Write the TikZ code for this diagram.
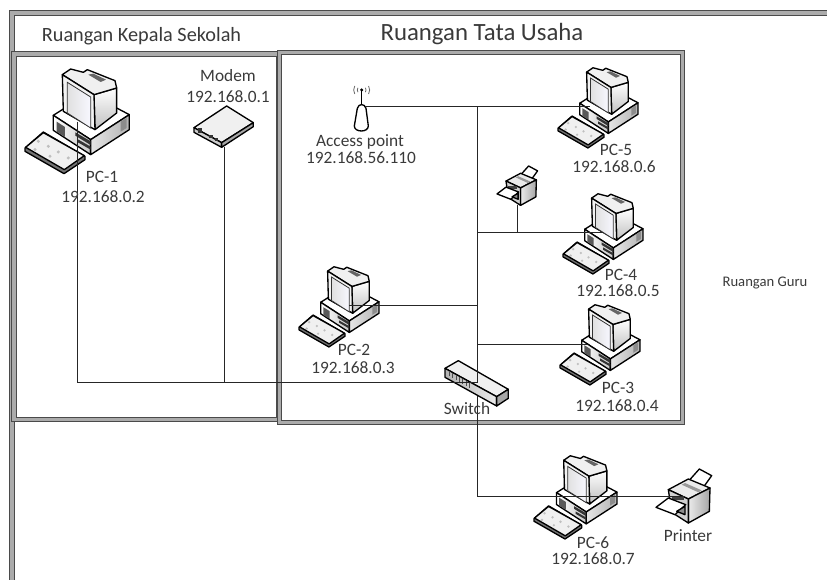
\documentclass[tikz,border=0pt]{standalone}
\usepackage{fontspec}
\setmainfont{Carlito}
\definecolor{wallgray}{HTML}{ABABAB}
\definecolor{walldark}{HTML}{4A4A4A}
\definecolor{labelc}{HTML}{3A3A3A}
\tikzset{
  wall/.style={draw=walldark,line width=0.75pt,double=wallgray,double distance=2.4pt},
  lab/.style={text=labelc,font=\fontsize{13pt}{15pt}\selectfont,inner sep=0pt,align=center},
  titlelab/.style={text=labelc,font=\fontsize{15.2pt}{18pt}\selectfont,inner sep=0pt},
  bigtitlelab/.style={text=labelc,font=\fontsize{18.6pt}{21pt}\selectfont,inner sep=0pt},
  smalllab/.style={text=labelc,font=\fontsize{11pt}{13pt}\selectfont,inner sep=0pt},
  wire/.style={draw=black!85,line width=0.75pt},
  ic/.style={draw=black,line width=1pt,line join=round},
  thin ic/.style={draw=black!75,line width=0.4pt},
}
\newcommand{\pcicon}[3]{%
 \begin{scope}[shift={(#1,#2)},scale=#3,shift={(-75,-205)}]
  % base
  \fill[white,ic] (160,347)--(190,328)--(350,325)--(388,345)--(272,420)--cycle;
  \shade[left color=white,right color=black!22,ic] (160,347)--(272,420)--(272,465)--(160,392)--cycle;
  \shade[left color=black!10,right color=black!30,ic] (272,420)--(388,345)--(388,390)--(272,465)--cycle;
  \fill[black!65] (170,366)--(195,382)--(195,412)--(170,396)--cycle;
  \fill[black!80] (226,398)--(272,425)--(272,436)--(226,408)--cycle;
  \fill[black!80] (232,418)--(272,441)--(272,450)--(232,427)--cycle;
  \fill[black!45] (362,366)--(380,355)--(380,385)--(362,396)--cycle;
  % monitor
  \shade[top color=white,bottom color=black!25,ic] (282,285)--(350,265)--(350,340)--(285,390)--cycle;
  \fill[black!6,ic] (187,225)--(212,208)--(250,218)--(262,210)--(345,243)--(350,265)--(282,285)--cycle;
  \fill[black!60] (265,225)--(280,222)--(318,240)--(302,247)--cycle;
  \fill[black!5,ic] (187,225)--(282,285)--(285,390)--(190,335)--cycle;
  \shade[left color=black!12,right color=blue!3,draw=black!80,line width=.6pt] (202,248)--(272,292)--(272,385)--(202,340)--cycle;
  % keyboard
  \fill[black!55,ic] (75,445)--(130,397)--(255,470)--(255,480)--(192,522)--(75,455)--cycle;
  \fill[black!6,ic] (77,443)--(130,399)--(253,468)--(193,510)--cycle;
  \foreach \a/\b in {115/425,145/440,175/457,205/475,150/470,105/450}
    \fill[black!25] (\a,\b) circle (5);
 \end{scope}}
\newcommand{\printericon}[3]{%
 \begin{scope}[shift={(#1,#2)},scale=#3,shift={(-48,-88)}]
  \fill[white,ic] (145,125)--(178,88)--(215,108)--(185,150)--cycle;
  \fill[black!8,ic] (85,150)--(145,118)--(210,145)--(145,178)--cycle;
  \fill[black!40] (125,135)--(135,130)--(185,152)--(175,158)--cycle;
  \shade[left color=black!8,right color=black!35,ic] (145,178)--(210,145)--(208,215)--(145,250)--cycle;
  \fill[black!18,ic] (85,150)--(145,178)--(145,250)--(95,218)--cycle;
  \fill[black!75] (95,170) rectangle (132,182);
  \fill[white,ic] (48,203)--(85,175)--(137,195)--(105,225)--cycle;
  \fill[black!45,ic] (110,215)--(135,200)--(135,225)--cycle;
 \end{scope}}
\begin{document}
\begin{tikzpicture}[x=0.75pt,y=-0.75pt]
\useasboundingbox (0,0) rectangle (827,580);
% walls
\path[wall] (12,580)--(12,13)--(827,13);
\path[wall] (14,54) rectangle (279,419.5);
\path[wall] (279.5,52.5) rectangle (682.5,422.5);
% icons
\pcicon{25}{68}{0.3333}
\pcicon{558}{67}{0.2555}
\pcicon{563}{193}{0.2555}
\pcicon{299}{266}{0.2555}
\pcicon{560}{304}{0.2555}
\pcicon{534}{455}{0.265}
\printericon{656}{469}{0.3333}
\printericon{497}{166}{0.243}
% modem
\begin{scope}[scale=0.3333]
  \fill[black!6,ic] (582,383)--(680,318)--(760,368)--(665,428)--cycle;
  \fill[black!20,ic] (582,383)--(665,428)--(665,442)--(582,397)--cycle;
  \fill[black!35,ic] (665,428)--(760,368)--(760,380)--(665,442)--cycle;
  \fill[black!80] (595,385) rectangle (606,400);
  \fill[black!80] (628,405) rectangle (638,415);
  \fill[black!80] (645,413) rectangle (655,423);
\end{scope}
% access point
\begin{scope}[shift={(280,40)},scale=0.3333]
  \draw[ic,line width=1.1pt] (245,150)--(245,200);
  \fill[black] (245,150) circle (5);
  \foreach \r in {13,24}{
    \draw[black!60,line width=.6pt] (245,150) ++(150:\r) arc (150:210:\r);
    \draw[black!60,line width=.6pt] (245,150) ++(30:\r) arc (30:-30:\r);
  }
  \fill[white,ic] (232,205) .. controls (236,190) and (254,190) .. (258,205) -- (265,258) .. controls (265,278) and (223,278) .. (223,258) -- cycle;
\end{scope}
% switch
\begin{scope}[shift={(400,340)},scale=0.3333]
  \fill[black!6,ic] (135,85)--(175,62)--(325,148)--(290,170)--cycle;
  \shade[left color=black!30,right color=black!8,ic] (135,85)--(290,170)--(290,198)--(135,112)--cycle;
  \fill[black!35,ic] (290,170)--(325,148)--(325,175)--(290,198)--cycle;
  \foreach \k in {0,...,6}
    \fill[black!70] (147+\k*10,92+\k*6) rectangle +(3,15);
\end{scope}
% anchors for connectors
\coordinate (pc1) at (77,122);
\coordinate (modem) at (224,147);
\coordinate (ap) at (365,107);
\coordinate (pc5) at (590,107);
\coordinate (pc4) at (603,233);
\coordinate (pc2) at (349,306);
\coordinate (pc3) at (587,345);
\coordinate (prn) at (517,205);
\coordinate (prnbig) at (685,496);
\coordinate (sw) at (477,383);
\coordinate (swb) at (477,396);
\coordinate (bus) at (477,107);
\coordinate (low) at (477,496);
% connectors
\draw[wire] (pc1) |- (sw);
\draw[wire] (modem) -- (modem |- sw);
\draw[wire] (ap) -- (pc5);
\draw[wire] (bus) -- (sw);
\draw[wire] (swb) -- (low) -- (prnbig);
\draw[wire] (pc4) -- (pc4 -| bus);
\draw[wire] (prn) -- (prn |- pc4);
\draw[wire] (pc2) -- (pc2 -| bus);
\draw[wire] (pc3) -- (pc3 -| bus);
% labels
\node[titlelab] (t1) at (141.5,36) {Ruangan Kepala Sekolah};
\node[bigtitlelab] (t2) at (482,34) {Ruangan Tata Usaha};
\node[smalllab] (t3) at (765,283) {Ruangan Guru};
\node[lab] (l1) at (102,177) {PC-1};
\node[lab] (i1) at (103,197) {192.168.0.2};
\node[lab] (l0) at (228,76) {Modem};
\node[lab] (i0) at (228,97) {192.168.0.1};
\node[lab] (la) at (360,142) {Access point};
\node[lab] (ia) at (361,158) {192.168.56.110};
\node[lab] (l5) at (616,150) {PC-5};
\node[lab] (i5) at (614,167) {192.168.0.6};
\node[lab] (l4) at (621,275) {PC-4};
\node[lab] (i4) at (618,291) {192.168.0.5};
\node[lab] (l2) at (354,350) {PC-2};
\node[lab] (i2) at (353,368) {192.168.0.3};
\node[lab] (l3) at (618,388) {PC-3};
\node[lab] (i3) at (617,406) {192.168.0.4};
\node[lab] (ls) at (467,409) {Switch};
\node[lab] (l6) at (593,543) {PC-6};
\node[lab] (i6) at (593,559) {192.168.0.7};
\node[lab] (lp) at (688,536) {Printer};
\end{tikzpicture}
\end{document}
